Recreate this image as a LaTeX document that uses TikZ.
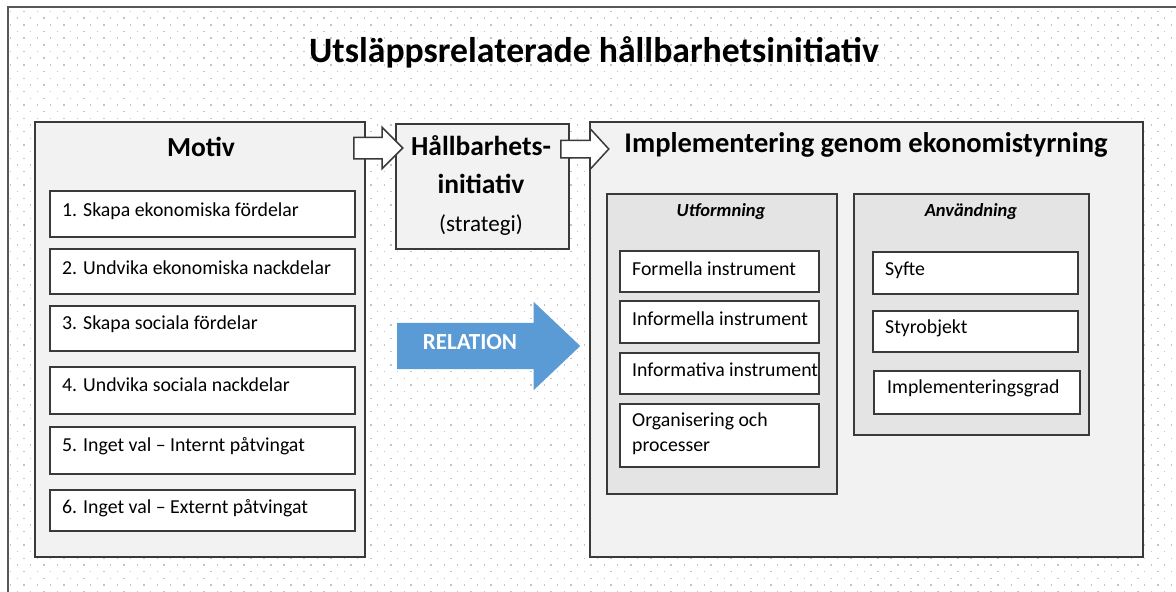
\documentclass[tikz,border=0pt]{standalone}
\usepackage{fontspec}
\setmainfont{Carlito}
\usetikzlibrary{shapes.arrows,shadows}
\definecolor{bord}{HTML}{3A3A3A}
\definecolor{outerfill}{HTML}{F2F2F2}
\definecolor{groupfill}{HTML}{E4E4E4}
\definecolor{dotcol}{HTML}{C4C4C4}
\definecolor{relblue}{HTML}{5B9BD5}
\begin{document}
\begin{tikzpicture}[x=1pt,y=-1pt,
  shade/.style={drop shadow={shadow xshift=1.3pt,shadow yshift=-1.3pt,opacity=0.45,fill=black}},
  box/.style={rectangle,draw=bord,line width=1.5pt,inner sep=0pt,outer sep=0pt,anchor=north west,shade},
  outerbox/.style={box,fill=outerfill},
  groupbox/.style={box,fill=groupfill},
  itembox/.style={box,fill=white},
  hollowarrow/.style={single arrow,draw=bord,fill=white,line width=1.5pt,inner xsep=0pt,anchor=tail},
  titletxt/.style={font=\fontsize{35.7}{40}\selectfont\bfseries,inner sep=0pt},
  headtxt/.style={font=\fontsize{27.5}{32}\selectfont\bfseries,inner sep=0pt},
  subtxt/.style={font=\fontsize{18.5}{22}\selectfont\bfseries\itshape,inner sep=0pt},
  itemtxt/.style={font=\fontsize{19.8}{25}\selectfont,inner sep=0pt,anchor=west,align=left},
  dotline/.style={draw=dotcol,line width=1.4pt,dash pattern=on 1.4pt off 11.94pt}
]
\useasboundingbox (0,0) rectangle (1176,592);
\begin{scope}
\clip (0,0) rectangle (1176,592);
\fill[white] (0,0) rectangle (1176,592);
\foreach \i in {0,...,88}{
  \pgfmathsetmacro\yy{11.5+6.67*\i}
  \pgfmathsetmacro\ph{mod(\i,2)*6.67}
  \draw[dotline,dash phase=\ph pt] (10,\yy) -- (1176,\yy);
}
\draw[draw=bord!85,line width=1.5pt] (8,620) -- (8,7) -- (1200,7);
\end{scope}

% title
\node[titletxt] (title) at (594,52) {Utsläppsrelaterade hållbarhetsinitiativ};

% Motiv column
\node[outerbox,minimum width=330pt,minimum height=435pt] (motiv) at (35,122) {};
\node[headtxt] (motivt) at (201,147) {Motiv};
\node[itembox,minimum width=305pt,minimum height=46pt] (m1) at (50,191) {};
\node[itembox,minimum width=305pt,minimum height=45pt] (m2) at (50,249) {};
\node[itembox,minimum width=305pt,minimum height=45pt] (m3) at (50,306) {};
\node[itembox,minimum width=305pt,minimum height=47pt] (m4) at (50,367) {};
\node[itembox,minimum width=305pt,minimum height=47pt] (m5) at (50,427) {};
\node[itembox,minimum width=305pt,minimum height=41pt] (m6) at (50,490) {};
\node[itemtxt] (m1t) at (62,211) {1. Skapa ekonomiska fördelar};
\node[itemtxt] (m2t) at (62,268) {2. Undvika ekonomiska nackdelar};
\node[itemtxt] (m3t) at (62,324) {3. Skapa sociala fördelar};
\node[itemtxt] (m4t) at (62,385) {4. Undvika sociala nackdelar};
\node[itemtxt] (m5t) at (62,446) {5. Inget val – Internt påtvingat};
\node[itemtxt] (m6t) at (62,508) {6. Inget val – Externt påtvingat};

% Hallbarhetsinitiativ
\node[outerbox,minimum width=173pt,minimum height=125pt] (hb) at (396,124) {};
\node[headtxt,align=center,font=\fontsize{27.5}{38}\selectfont\bfseries] (hbt) at (481,186)
  {Hållbarhets-\\initiativ\\{\fontsize{23}{38}\selectfont\mdseries (strategi)}};

% Implementering
\node[outerbox,minimum width=553pt,minimum height=435pt] (impl) at (590,122) {};
\node[headtxt,font=\fontsize{28.5}{32}\selectfont\bfseries] (implt) at (866,145) {Implementering genom ekonomistyrning};

\node[groupbox,minimum width=230pt,minimum height=300pt] (utf) at (607,194) {};
\node[subtxt] (utft) at (721,212) {Utformning};
\node[itembox,minimum width=199pt,minimum height=41pt] (f1) at (620,251) {};
\node[itembox,minimum width=199pt,minimum height=42pt] (f2) at (620,301) {};
\node[itembox,minimum width=199pt,minimum height=41pt] (f3) at (620,353) {};
\node[itembox,minimum width=199pt,minimum height=63pt] (f4) at (620,404) {};
\node[itemtxt] (f1t) at (632,269) {Formella instrument};
\node[itemtxt] (f2t) at (632,319) {Informella instrument};
\node[itemtxt] (f3t) at (632,370) {Informativa instrument};
\node[itemtxt] (f4t) at (632,433.5) {Organisering och\\processer};

\node[groupbox,minimum width=235pt,minimum height=241pt] (anv) at (854,194) {};
\node[subtxt] (anvt) at (971,212) {Användning};
\node[itembox,minimum width=205pt,minimum height=42pt] (a1) at (873,252) {};
\node[itembox,minimum width=205pt,minimum height=41pt] (a2) at (873,311) {};
\node[itembox,minimum width=206pt,minimum height=43pt] (a3) at (874,371) {};
\node[itemtxt] (a1t) at (885,270) {Syfte};
\node[itemtxt] (a2t) at (885,328) {Styrobjekt};
\node[itemtxt] (a3t) at (887,388) {Implementeringsgrad};

% block arrows
\node[hollowarrow,minimum height=49pt,inner ysep=10pt,single arrow head extend=10pt,single arrow tip angle=90] (arr1) at (353,148) {};
\node[hollowarrow,minimum height=48pt,inner ysep=8pt,single arrow head extend=11.5pt,single arrow tip angle=95] (arr2) at (560,149) {};
\node[single arrow,fill=relblue,inner xsep=0pt,anchor=tail,minimum height=183pt,inner ysep=23pt,single arrow head extend=21pt,single arrow tip angle=87] (rel) at (397,346) {};
\node[font=\fontsize{23}{26}\selectfont\bfseries,text=white,inner sep=0pt] (relt) at (470,342) {RELATION};
\end{tikzpicture}
\end{document}
